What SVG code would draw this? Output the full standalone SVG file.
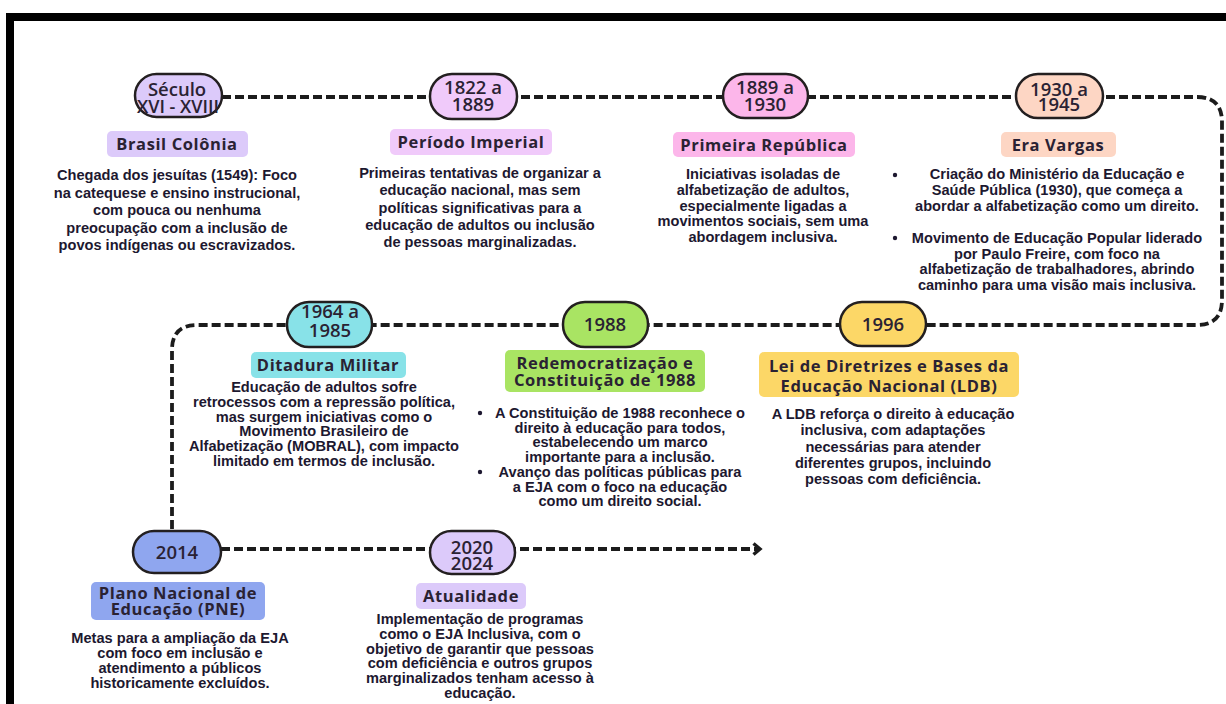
<svg xmlns="http://www.w3.org/2000/svg" width="1226" height="704" viewBox="0 0 1226 704">
<defs>
<style>
.pill{stroke:#231f20;stroke-width:2.5}
.yr{font-family:"Open Sans","Liberation Sans",sans-serif;font-weight:600;font-size:18.5px;fill:#2a2233;text-anchor:middle}
.tt{font-family:"Open Sans","Liberation Sans",sans-serif;font-weight:700;font-size:16.5px;fill:#2a2233;text-anchor:middle;letter-spacing:0.6px}
.bd{font-family:"Liberation Sans",Arial,sans-serif;font-weight:700;font-size:14.6px;fill:#1d1830;text-anchor:middle}
.ln{fill:none;stroke:#1c1c1c;stroke-width:3.8;stroke-dasharray:9 4}
</style>
<marker id="arr" viewBox="0 0 12 14" refX="9" refY="7" markerWidth="12" markerHeight="14" markerUnits="userSpaceOnUse" orient="auto">
<path d="M2.5,1.5 L9,7 L2.5,12.5" fill="none" stroke="#1c1c1c" stroke-width="3.4" stroke-linejoin="miter"/>
</marker>
</defs>
<rect x="0" y="0" width="1226" height="704" fill="#ffffff"/>
<rect x="10" y="17" width="1300" height="800" fill="none" stroke="#000" stroke-width="8"/>
<g id="connectors">
<path class="ln" d="M222,97 H1197 Q1222,97 1222,122 V300 Q1222,325 1197,325 H197 Q172,325 172,350 V531"/>
<path class="ln" d="M221,549 H760" marker-end="url(#arr)"/>
</g>
<g id="n1">
<rect class="pill" x="135" y="74" width="87" height="43" rx="21.5" fill="#dccafa"/>
<text class="yr" x="177" y="96" font-size="20.5">Século</text>
<text class="yr" x="178" y="113" font-size="15.5" textLength="82" lengthAdjust="spacingAndGlyphs">XVI - XVIII</text>
<rect x="107" y="131" width="141" height="26" rx="5" fill="#dccafa"/>
<text class="tt" x="177" y="150">Brasil Colônia</text>
<text class="bd" x="177" y="180"><tspan x="177">Chegada dos jesuítas (1549): Foco</tspan><tspan x="177" dy="17.5">na catequese e ensino instrucional,</tspan><tspan x="177" dy="17.5">com pouca ou nenhuma</tspan><tspan x="177" dy="17.5">preocupação com a inclusão de</tspan><tspan x="177" dy="17.5">povos indígenas ou escravizados.</tspan></text>
</g>
<g id="n2">
<rect class="pill" x="430" y="74" width="87" height="45" rx="22" fill="#f0cafa"/>
<text class="yr" x="473" y="94">1822 a</text>
<text class="yr" x="473" y="111">1889</text>
<rect x="390" y="129" width="162" height="26" rx="5" fill="#f0cafa"/>
<text class="tt" x="471" y="148">Período Imperial</text>
<text class="bd" x="480" y="178"><tspan x="480">Primeiras tentativas de organizar a</tspan><tspan x="480" dy="17.3">educação nacional, mas sem</tspan><tspan x="480" dy="17.3">políticas significativas para a</tspan><tspan x="480" dy="17.3">educação de adultos ou inclusão</tspan><tspan x="480" dy="17.3">de pessoas marginalizadas.</tspan></text>
</g>
<g id="n3">
<rect class="pill" x="723" y="74" width="85" height="44" rx="22" fill="#fcb6ea"/>
<text class="yr" x="765" y="94">1889 a</text>
<text class="yr" x="765" y="111">1930</text>
<rect x="673" y="132" width="182" height="25" rx="5" fill="#fcb6ea"/>
<text class="tt" x="764" y="151">Primeira República</text>
<text class="bd" x="763" y="179"><tspan x="763">Iniciativas isoladas de</tspan><tspan x="763" dy="15.8">alfabetização de adultos,</tspan><tspan x="763" dy="15.8">especialmente ligadas a</tspan><tspan x="763" dy="15.8">movimentos sociais, sem uma</tspan><tspan x="763" dy="15.8">abordagem inclusiva.</tspan></text>
</g>
<g id="n4">
<rect class="pill" x="1016" y="74" width="87" height="44" rx="22" fill="#fdd6c4"/>
<text class="yr" x="1059" y="96">1930 a</text>
<text class="yr" x="1059" y="111">1945</text>
<rect x="1001" y="132" width="115" height="25" rx="5" fill="#fdd6c4"/>
<text class="tt" x="1058" y="151">Era Vargas</text>
<circle cx="895" cy="175" r="2.2" fill="#1d1830"/>
<circle cx="895" cy="238" r="2.2" fill="#1d1830"/>
<text class="bd" x="1057" y="179"><tspan x="1057">Criação do Ministério da Educação e</tspan><tspan x="1057" dy="16">Saúde Pública (1930), que começa a</tspan><tspan x="1057" dy="16">abordar a alfabetização como um direito.</tspan><tspan x="1057" dy="32">Movimento de Educação Popular liderado</tspan><tspan x="1057" dy="15.7">por Paulo Freire, com foco na</tspan><tspan x="1057" dy="15.7">alfabetização de trabalhadores, abrindo</tspan><tspan x="1057" dy="15.7">caminho para uma visão mais inclusiva.</tspan></text>
</g>
<g id="n5">
<rect class="pill" x="287" y="302" width="85" height="45" rx="22" fill="#88e2e8"/>
<text class="yr" x="330" y="318">1964 a</text>
<text class="yr" x="330" y="337">1985</text>
<rect x="251" y="352" width="155" height="26" rx="5" fill="#88e2e8"/>
<text class="tt" x="328" y="371">Ditadura Militar</text>
<text class="bd" x="324" y="392"><tspan x="324">Educação de adultos sofre</tspan><tspan x="324" dy="14.8">retrocessos com a repressão política,</tspan><tspan x="324" dy="14.8">mas surgem iniciativas como o</tspan><tspan x="324" dy="14.8">Movimento Brasileiro de</tspan><tspan x="324" dy="14.8">Alfabetização (MOBRAL), com impacto</tspan><tspan x="324" dy="14.8">limitado em termos de inclusão.</tspan></text>
</g>
<g id="n6">
<rect class="pill" x="563" y="302" width="85" height="45" rx="22" fill="#a9e463"/>
<text class="yr" x="605" y="331">1988</text>
<rect x="505" y="350" width="200" height="42" rx="5" fill="#a9e463"/>
<text class="tt" x="605" y="369">Redemocratização e</text>
<text class="tt" x="605" y="386">Constituição de 1988</text>
<circle cx="480" cy="413" r="2.2" fill="#1d1830"/>
<circle cx="480" cy="472" r="2.2" fill="#1d1830"/>
<text class="bd" x="620" y="418"><tspan x="620">A Constituição de 1988 reconhece o</tspan><tspan x="620" dy="14.7">direito à educação para todos,</tspan><tspan x="620" dy="14.7">estabelecendo um marco</tspan><tspan x="620" dy="14.7">importante para a inclusão.</tspan><tspan x="620" dy="14.7">Avanço das políticas públicas para</tspan><tspan x="620" dy="14.7">a EJA com o foco na educação</tspan><tspan x="620" dy="14.7">como um direito social.</tspan></text>
</g>
<g id="n7">
<rect class="pill" x="840" y="302" width="86" height="44" rx="22" fill="#fcd767"/>
<text class="yr" x="883" y="331">1996</text>
<rect x="759" y="352" width="260" height="45" rx="5" fill="#fcd767"/>
<text class="tt" x="889" y="372">Lei de Diretrizes e Bases da</text>
<text class="tt" x="889" y="392">Educação Nacional (LDB)</text>
<text class="bd" x="893" y="419"><tspan x="893">A LDB reforça o direito à educação</tspan><tspan x="893" dy="16.3">inclusiva, com adaptações</tspan><tspan x="893" dy="16.3">necessárias para atender</tspan><tspan x="893" dy="16.3">diferentes grupos, incluindo</tspan><tspan x="893" dy="16.3">pessoas com deficiência.</tspan></text>
</g>
<g id="n8">
<rect class="pill" x="133" y="531" width="88" height="42" rx="21" fill="#8fa6ef"/>
<text class="yr" x="177" y="559">2014</text>
<rect x="91" y="582" width="174" height="38" rx="5" fill="#8fa6ef"/>
<text class="tt" x="178" y="599">Plano Nacional de</text>
<text class="tt" x="178" y="615">Educação (PNE)</text>
<text class="bd" x="180" y="643"><tspan x="180">Metas para a ampliação da EJA</tspan><tspan x="180" dy="15">com foco em inclusão e</tspan><tspan x="180" dy="15">atendimento a públicos</tspan><tspan x="180" dy="15">historicamente excluídos.</tspan></text>
</g>
<g id="n9">
<rect class="pill" x="430" y="531" width="85" height="43" rx="21.5" fill="#dccafa"/>
<text class="yr" x="472" y="554">2020</text>
<text class="yr" x="472" y="570">2024</text>
<rect x="416" y="583" width="110" height="26" rx="5" fill="#dccafa"/>
<text class="tt" x="471" y="602">Atualidade</text>
<text class="bd" x="480" y="624"><tspan x="480">Implementação de programas</tspan><tspan x="480" dy="14.8">como o EJA Inclusiva, com o</tspan><tspan x="480" dy="14.8">objetivo de garantir que pessoas</tspan><tspan x="480" dy="14.8">com deficiência e outros grupos</tspan><tspan x="480" dy="14.8">marginalizados tenham acesso à</tspan><tspan x="480" dy="14.8">educação.</tspan></text>
</g>
</svg>
